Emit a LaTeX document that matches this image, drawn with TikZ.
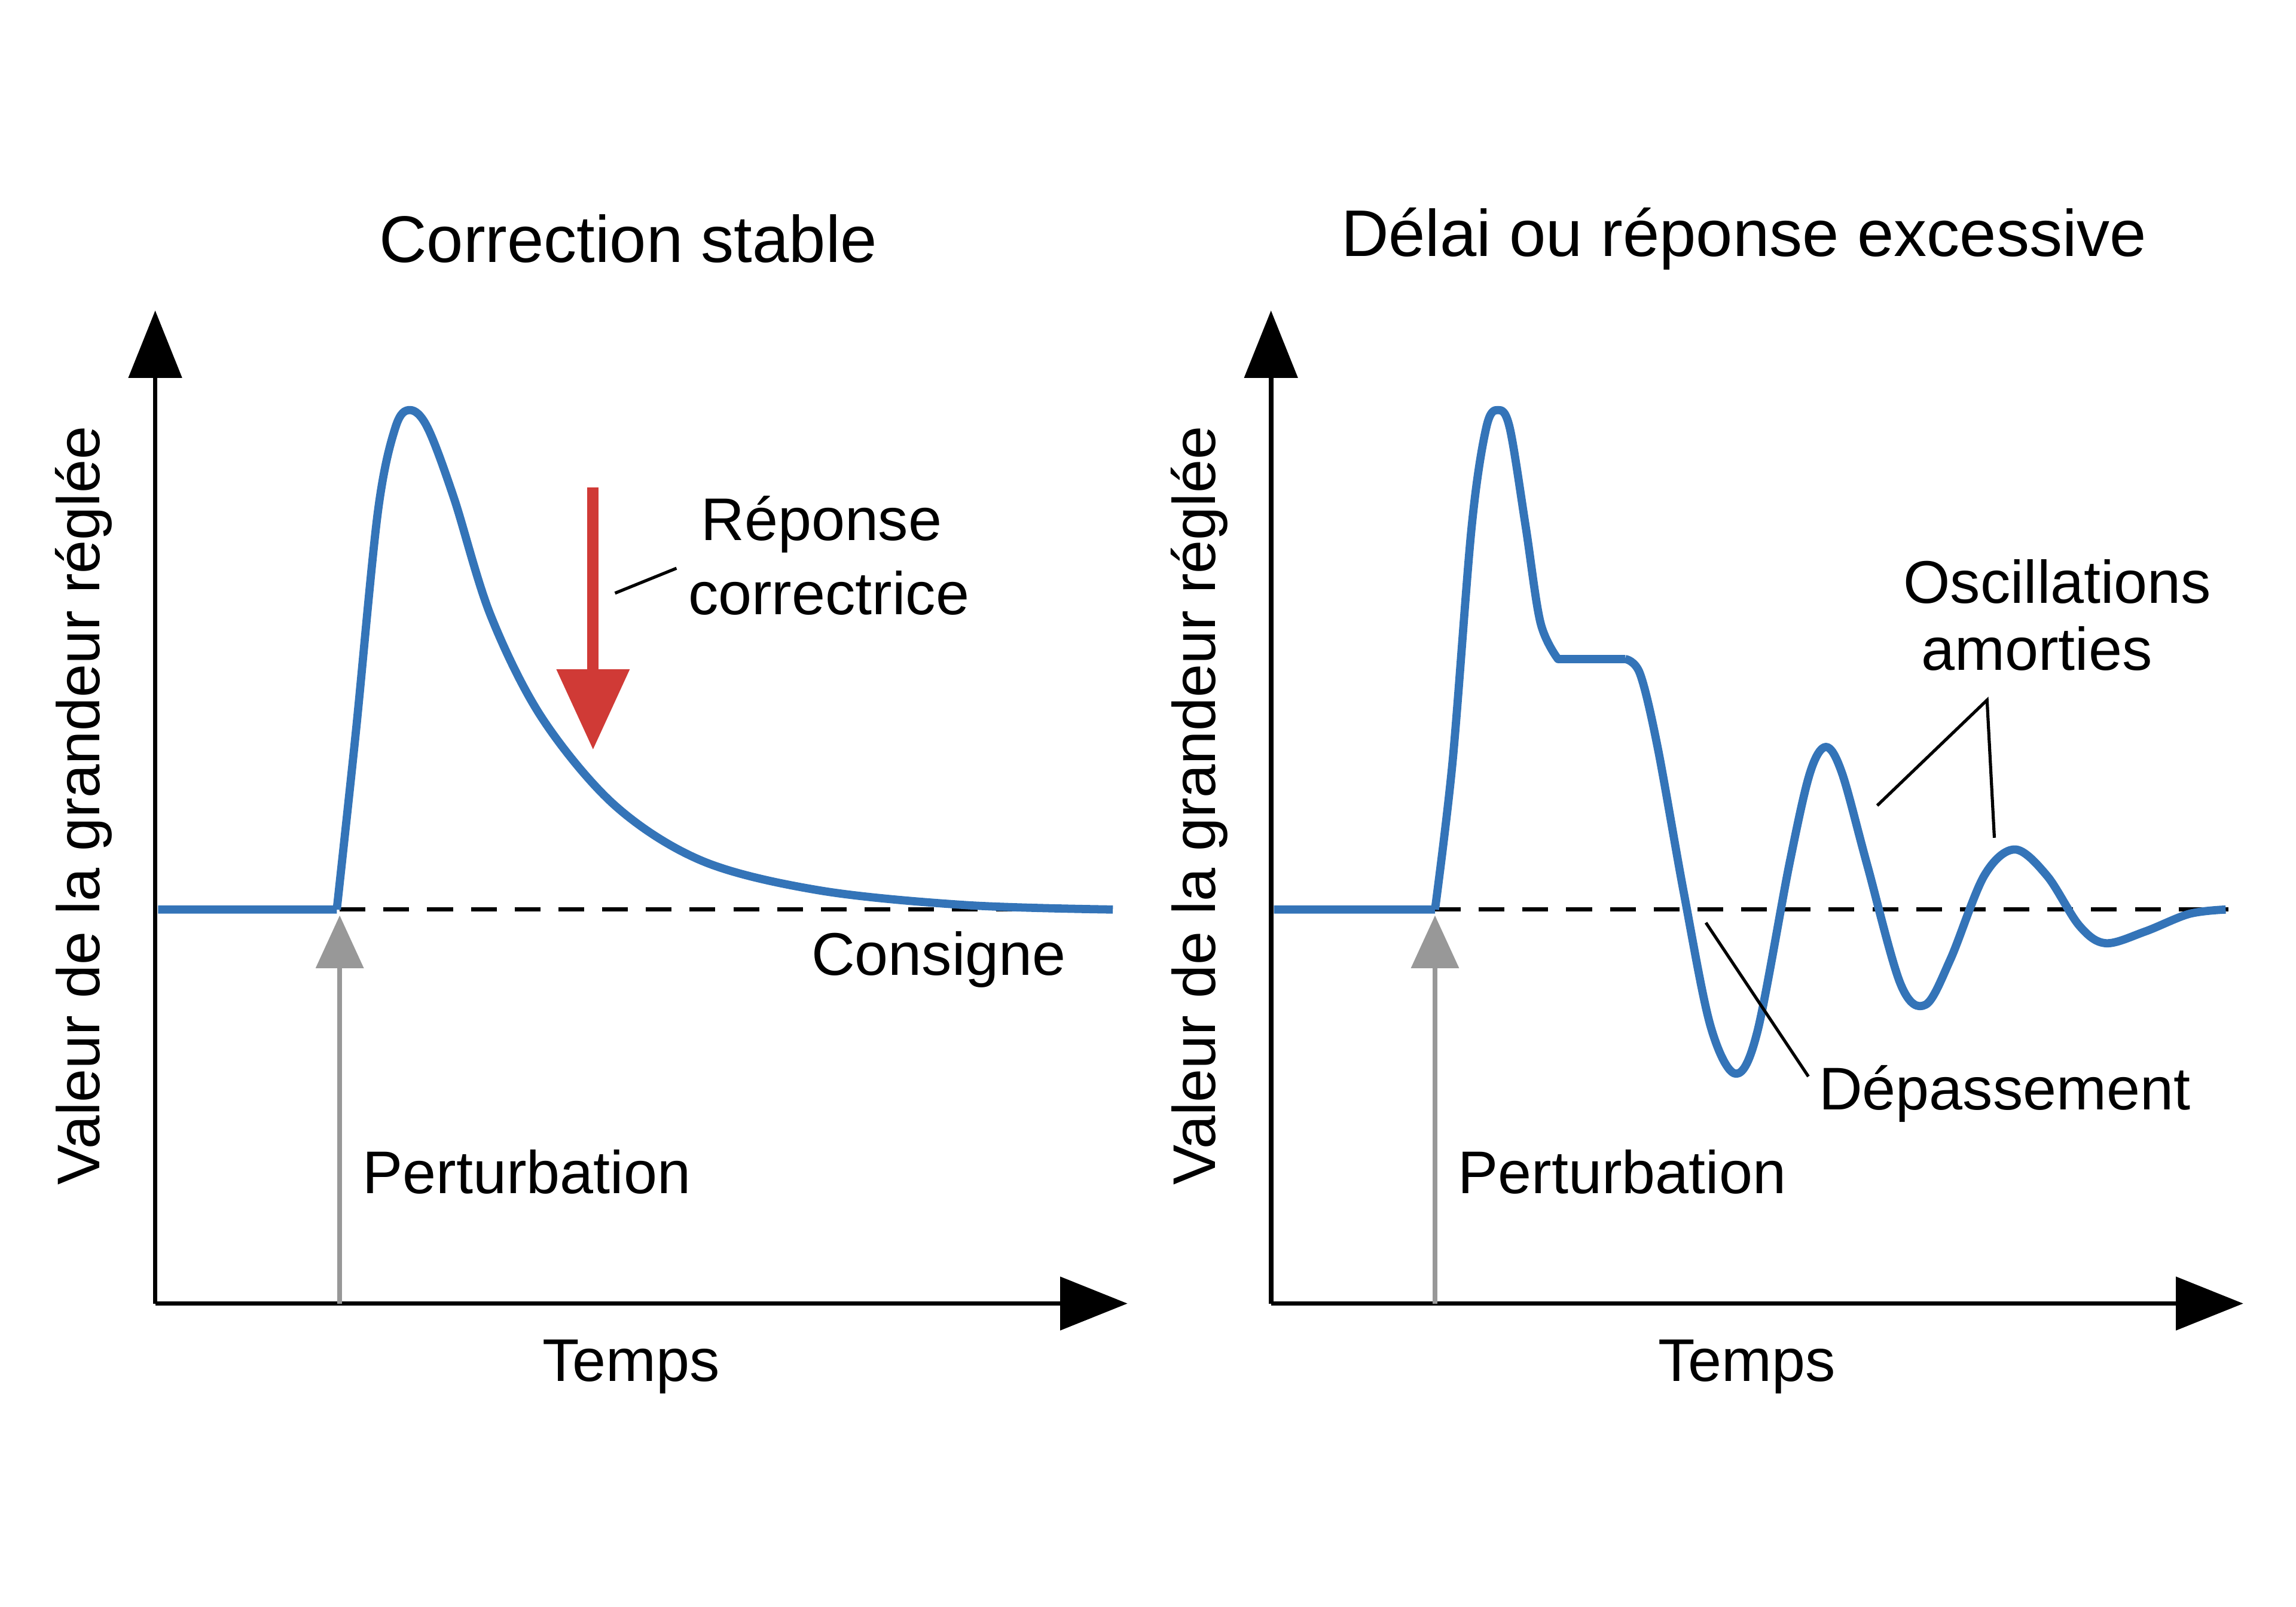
\documentclass[tikz,border=0pt]{standalone}
\usepackage{fontspec}
\setmainfont{Liberation Sans}
\usetikzlibrary{arrows.meta}
\definecolor{curveblue}{HTML}{3474B8}
\definecolor{corrred}{HTML}{D03A36}
\definecolor{perturbgray}{HTML}{989898}
\tikzset{%
    axe/.style={line width=0.9pt, -{Triangle[length=4.6mm,width=3.6mm]}},
    courbe/.style={line width=1.6pt, curveblue, line join=round},
    cons/.style={line width=0.8pt, dash pattern=on 5pt off 3.5pt},
    pert/.style={line width=1pt, perturbgray, -{Triangle[length=3.6mm,width=3.2mm]}},
    lien/.style={line width=0.6pt},
    txt/.style={font=\fontsize{11.7}{14}\selectfont, inner sep=0pt},
    titr/.style={font=\fontsize{12.8}{15}\selectfont, inner sep=0pt},
}

\begin{document}
\begin{tikzpicture}[x=0.1mm,y=-0.1mm]
    \useasboundingbox (0,0) rectangle (1568,1097);
    % axes, consigne et perturbation des deux graphes
    \foreach \ox/\px/\tx/\ttl in {106/232/431/Correction stable, 868/980/1193/D\'elai ou r\'eponse excessive} {
        \coordinate (o) at (\ox,890);
        \coordinate (ytop) at (\ox,212);
        \coordinate (xend) at (\ox+664,890);
        \draw [axe] (o) -- (ytop);
        \draw [axe] (o) -- (xend);
        \coordinate (pbas) at (\px,890);
        \coordinate (phaut) at (\px,625);
        \draw [pert] (pbas) -- (phaut);
        \coordinate (cdeb) at (\px,621);
        \coordinate (cfin) at (\ox+654,621);
        \draw [cons] (cdeb) -- (cfin);
        \node [txt, rotate=90] (ylab) at (\ox-49,550) {Valeur de la grandeur réglée};
        \node [txt] (temps) at (\tx,933) {Temps};
        \node [txt, anchor=west] (perturb) at (\px+15,800) {Perturbation};
        \node [titr] (titre) at (\tx-2,163) {\ttl};
    }
    % graphe de gauche
    \draw [courbe] (108,621) -- (230,621)
        plot [smooth, tension=0.55] coordinates {(230,621) (243,500) (258,350) (270,292) (280,280) (292,292) (310,340) (335,420) (370,490) (420,550) (480,588) (560,608) (660,618) (760,621)};
    \coordinate (rhaut) at (405,333);
    \coordinate (rbas) at (405,512);
    \draw [corrred, line width=2.2pt, -{Triangle[length=5.5mm,width=4.8mm]}] (rhaut) -- (rbas);
    \node [txt] (reponse) at (561,358) {Réponse};
    \node [txt] (correc) at (566,405) {correctrice};
    \coordinate (l1) at (420,405);
    \coordinate (l2) at (462,388);
    \draw [lien] (l1) -- (l2);
    \node [txt] (consigne) at (641,655) {Consigne};
    % graphe de droite
    \draw [courbe] (870,621) -- (980,621)
        plot [smooth, tension=0.55] coordinates {(980,621) (992,520) (1005,360) (1015,292) (1023,280) (1031,292) (1042,360) (1052,425) (1064,450)}
        -- (1110,450)
        plot [smooth, tension=0.55] coordinates {(1110,450) (1120,460) (1132,510) (1150,610) (1168,700) (1185,733) (1200,705) (1222,590) (1236,528) (1247,510) (1258,528) (1275,590) (1298,672) (1315,686) (1332,655) (1355,598) (1376,580) (1398,598) (1420,632) (1438,644) (1465,636) (1495,624) (1520,621)};
    \node [txt] (oscil) at (1405,397) {Oscillations};
    \node [txt] (amort) at (1391,443) {amorties};
    \coordinate (f) at (1357,478);
    \coordinate (f1) at (1282,550);
    \coordinate (f2) at (1362,572);
    \draw [lien] (f1) -- (f) -- (f2);
    \node [txt] (depas) at (1369,747) {Dépassement};
    \coordinate (d1) at (1235,735);
    \coordinate (d2) at (1165,630);
    \draw [lien] (d1) -- (d2);
\end{tikzpicture}
\end{document}
